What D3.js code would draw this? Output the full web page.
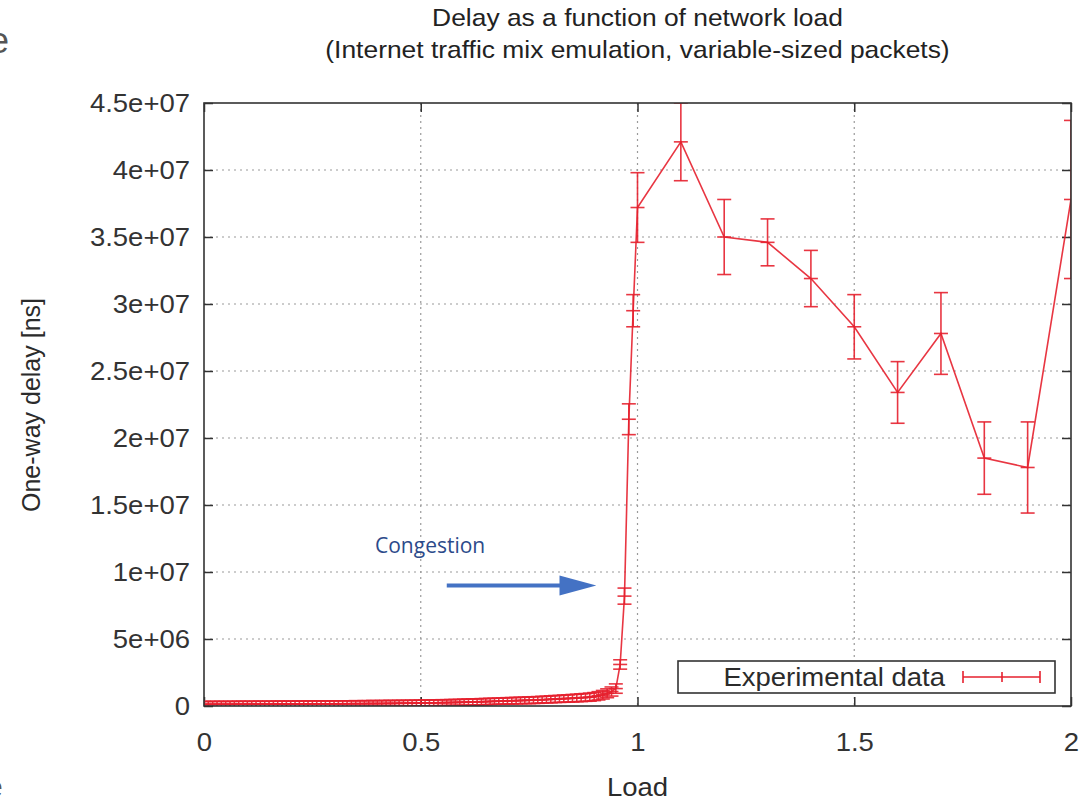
<!DOCTYPE html>
<html>
<head>
<meta charset="utf-8">
<script src="https://cdn.jsdelivr.net/npm/d3@7"></script>
<style>
  body { margin: 0; background: #fff; }
  svg text { font-family: "Liberation Sans", Arial, sans-serif; fill: #2b2b2b; }
</style>
</head>
<body>
<svg id="chart" width="1081" height="802"></svg>
<script>
// Load values (x) and measured one-way delay (ns) with error half-widths
const loads = [
  0.00, 0.01, 0.02, 0.03, 0.04, 0.05, 0.06, 0.07, 0.08, 0.09,
  0.10, 0.11, 0.12, 0.13, 0.14, 0.15, 0.16, 0.17, 0.18, 0.19,
  0.20, 0.21, 0.22, 0.23, 0.24, 0.25, 0.26, 0.27, 0.28, 0.29,
  0.30, 0.31, 0.32, 0.33, 0.34, 0.35, 0.36, 0.37, 0.38, 0.39,
  0.40, 0.41, 0.42, 0.43, 0.44, 0.45, 0.46, 0.47, 0.48, 0.49,
  0.50, 0.51, 0.52, 0.53, 0.54, 0.55, 0.56, 0.57, 0.58, 0.59,
  0.60, 0.61, 0.62, 0.63, 0.64, 0.65, 0.66, 0.67, 0.68, 0.69,
  0.70, 0.71, 0.72, 0.73, 0.74, 0.75, 0.76, 0.77, 0.78, 0.79,
  0.80, 0.81, 0.82, 0.83, 0.84, 0.85, 0.86, 0.87, 0.88, 0.89,
  0.90, 0.91, 0.92, 0.93, 0.94, 0.95, 0.96, 0.97, 0.98, 0.99,
  1.00, 1.1, 1.2, 1.3, 1.4, 1.5, 1.6, 1.7, 1.8, 1.9, 2.0
];
const delays = [
  0.12e6, 0.12e6, 0.13e6, 0.12e6, 0.13e6, 0.13e6, 0.12e6, 0.13e6, 0.14e6, 0.13e6,
  0.13e6, 0.14e6, 0.13e6, 0.14e6, 0.14e6, 0.13e6, 0.14e6, 0.15e6, 0.14e6, 0.14e6,
  0.15e6, 0.14e6, 0.15e6, 0.15e6, 0.16e6, 0.15e6, 0.16e6, 0.16e6, 0.15e6, 0.16e6,
  0.16e6, 0.17e6, 0.16e6, 0.17e6, 0.17e6, 0.18e6, 0.17e6, 0.18e6, 0.18e6, 0.19e6,
  0.18e6, 0.19e6, 0.19e6, 0.20e6, 0.19e6, 0.20e6, 0.21e6, 0.20e6, 0.21e6, 0.22e6,
  0.22e6, 0.23e6, 0.22e6, 0.24e6, 0.24e6, 0.25e6, 0.25e6, 0.26e6, 0.27e6, 0.27e6,
  0.28e6, 0.29e6, 0.30e6, 0.30e6, 0.32e6, 0.33e6, 0.34e6, 0.35e6, 0.36e6, 0.37e6,
  0.38e6, 0.39e6, 0.40e6, 0.41e6, 0.42e6, 0.43e6, 0.44e6, 0.45e6, 0.47e6, 0.48e6,
  0.50e6, 0.52e6, 0.53e6, 0.55e6, 0.56e6, 0.58e6, 0.60e6, 0.62e6, 0.64e6, 0.66e6,
  0.70e6, 0.76e6, 0.84e6, 0.95e6, 1.08e6, 1.3e6, 3.1e6, 8.2e6, 21.4e6, 29.5e6,
  37.2e6, 42.1e6, 35.0e6, 34.6e6, 31.9e6, 28.3e6, 23.4e6, 27.8e6, 18.5e6, 17.8e6, 37.8e6
];
const errors = [
  0.22e6, 0.22e6, 0.22e6, 0.22e6, 0.22e6, 0.22e6, 0.22e6, 0.22e6, 0.22e6, 0.22e6,
  0.22e6, 0.22e6, 0.22e6, 0.22e6, 0.22e6, 0.22e6, 0.22e6, 0.22e6, 0.22e6, 0.22e6,
  0.22e6, 0.22e6, 0.22e6, 0.22e6, 0.22e6, 0.22e6, 0.22e6, 0.22e6, 0.22e6, 0.22e6,
  0.22e6, 0.22e6, 0.22e6, 0.22e6, 0.22e6, 0.22e6, 0.22e6, 0.22e6, 0.22e6, 0.22e6,
  0.22e6, 0.22e6, 0.22e6, 0.22e6, 0.22e6, 0.22e6, 0.22e6, 0.22e6, 0.22e6, 0.22e6,
  0.22e6, 0.22e6, 0.22e6, 0.22e6, 0.22e6, 0.22e6, 0.22e6, 0.22e6, 0.22e6, 0.22e6,
  0.23e6, 0.23e6, 0.23e6, 0.23e6, 0.23e6, 0.23e6, 0.23e6, 0.23e6, 0.23e6, 0.23e6,
  0.24e6, 0.24e6, 0.24e6, 0.24e6, 0.24e6, 0.25e6, 0.25e6, 0.25e6, 0.25e6, 0.25e6,
  0.26e6, 0.26e6, 0.26e6, 0.27e6, 0.27e6, 0.28e6, 0.28e6, 0.29e6, 0.29e6, 0.30e6,
  0.30e6, 0.31e6, 0.32e6, 0.33e6, 0.34e6, 0.35e6, 0.35e6, 0.6e6, 1.15e6, 1.2e6,
  2.6e6, 2.9e6, 2.8e6, 1.75e6, 2.1e6, 2.4e6, 2.3e6, 3.05e6, 2.7e6, 3.4e6, 5.9e6
];

const xTicks = [0, 0.5, 1, 1.5, 2];
const xTickLabels = ["0", "0.5", "1", "1.5", "2"];
const yTicks = [0, 5e6, 1e7, 1.5e7, 2e7, 2.5e7, 3e7, 3.5e7, 4e7, 4.5e7];
const yTickLabels = ["0", "5e+06", "1e+07", "1.5e+07", "2e+07", "2.5e+07", "3e+07", "3.5e+07", "4e+07", "4.5e+07"];

const titleLines = ["Delay as a function of network load", "(Internet traffic mix emulation, variable-sized packets)"];
const seriesName = "Experimental data";

const red = "#e6202e";
const ink = "#333";

const svg = d3.select("#chart");
const plotL = 204, plotR = 1071, plotT = 103, plotB = 706;

const x = d3.scaleLinear().domain([0, 2]).range([plotL, plotR]);
const y = d3.scaleLinear().domain([0, 4.5e7]).range([plotB, plotT]);

// slight horizontal stretch of text, as in the source image
function stretch(sel, k = 1.1) {
  sel.attr("transform", function() {
    const tx = +this.getAttribute("x") || 0;
    const ty = +this.getAttribute("y") || 0;
    return `translate(${tx},${ty}) scale(${k},1) translate(${-tx},${-ty})`;
  });
}

// crop leftovers on the left edge
svg.append("text").attr("x", -11).attr("y", 53).attr("font-size", 36).style("fill", "#555").text("e");
svg.append("text").attr("x", -14).attr("y", 797).attr("font-size", 30).style("fill", "#555").text("e");

// grid
const grid = svg.append("g").attr("stroke", "#9a9a9a").attr("stroke-width", 1.2).attr("stroke-dasharray", "2,4");
grid.selectAll(".hg").data(yTicks.slice(1, -1)).join("line")
  .attr("x1", plotL).attr("x2", plotR).attr("y1", d => y(d)).attr("y2", d => y(d));
grid.selectAll(".vg").data(xTicks.slice(1, -1)).join("line")
  .attr("y1", plotT).attr("y2", plotB).attr("x1", d => x(d)).attr("x2", d => x(d));

// axes (gnuplot style: ticks inside, mirrored)
const yAxis = svg.append("g").attr("transform", `translate(${plotL},0)`)
  .call(d3.axisLeft(y).tickValues(yTicks).tickFormat((d, i) => yTickLabels[i]).tickSize(-9).tickPadding(14));
const xAxis = svg.append("g").attr("transform", `translate(0,${plotB})`)
  .call(d3.axisBottom(x).tickValues(xTicks).tickFormat((d, i) => xTickLabels[i]).tickSize(-9).tickPadding(27));
svg.append("g").attr("transform", `translate(${plotR},0)`)
  .call(d3.axisRight(y).tickValues(yTicks).tickFormat("").tickSize(-9));
svg.append("g").attr("transform", `translate(0,${plotT})`)
  .call(d3.axisTop(x).tickValues(xTicks).tickFormat("").tickSize(-9));
svg.selectAll(".domain").remove();
svg.selectAll(".tick line").attr("stroke", ink).attr("stroke-width", 1.5);
[yAxis, xAxis].forEach(a => a.selectAll("text").attr("font-size", 25).style("fill", ink)
  .attr("font-family", "'Liberation Sans', Arial, sans-serif").call(stretch));

// data
const pts = loads.map((l, i) => ({ load: l, delay: delays[i], err: errors[i] }));
svg.append("clipPath").attr("id", "plot-clip")
  .append("rect").attr("x", plotL).attr("y", plotT).attr("width", plotR - plotL).attr("height", plotB - plotT);
const plot = svg.append("g").attr("clip-path", "url(#plot-clip)");

plot.append("path").datum(pts)
  .attr("fill", "none").attr("stroke", red).attr("stroke-width", 1.6).attr("stroke-opacity", 0.9)
  .attr("d", d3.line().x(d => x(d.load)).y(d => y(d.delay)));

const capW = 7;
const bars = plot.append("g").attr("stroke", red).attr("stroke-width", 1.6).attr("stroke-opacity", 0.9)
  .selectAll("g").data(pts).join("g");
bars.append("line")
  .attr("x1", d => x(d.load)).attr("x2", d => x(d.load))
  .attr("y1", d => y(d.delay - d.err)).attr("y2", d => y(d.delay + d.err));
bars.append("line")
  .attr("x1", d => x(d.load) - capW).attr("x2", d => x(d.load) + capW)
  .attr("y1", d => y(d.delay + d.err)).attr("y2", d => y(d.delay + d.err));
bars.append("line")
  .attr("x1", d => x(d.load) - capW).attr("x2", d => x(d.load) + capW)
  .attr("y1", d => y(d.delay - d.err)).attr("y2", d => y(d.delay - d.err));
bars.append("line")
  .attr("x1", d => x(d.load) - capW).attr("x2", d => x(d.load) + capW)
  .attr("y1", d => y(d.delay)).attr("y2", d => y(d.delay));

// border
svg.append("rect").attr("x", plotL).attr("y", plotT).attr("width", plotR - plotL).attr("height", plotB - plotT)
  .attr("fill", "none").attr("stroke", ink).attr("stroke-width", 1.6);

// legend
const lg = svg.append("g");
lg.append("rect").attr("x", 678).attr("y", 661).attr("width", 377).attr("height", 32)
  .attr("fill", "#fff").attr("stroke", ink).attr("stroke-width", 1.6);
lg.append("text").attr("x", 945).attr("y", 686).attr("text-anchor", "end").attr("font-size", 25)
  .text(seriesName).call(stretch);
lg.append("g").attr("stroke", red).attr("stroke-width", 1.6)
  .selectAll("line").data([[963, 677, 1040, 677], [963, 671, 963, 683], [1040, 671, 1040, 683], [1002, 672, 1002, 682]])
  .join("line").attr("x1", d => d[0]).attr("y1", d => d[1]).attr("x2", d => d[2]).attr("y2", d => d[3]);

// titles
svg.selectAll(".title").data(titleLines).join("text")
  .attr("x", x(1)).attr("y", (d, i) => 26 + i * 32).attr("text-anchor", "middle")
  .attr("font-size", 24).style("fill", "#222").text(d => d).call(stretch, 1.1);

svg.append("text").attr("x", x(1)).attr("y", 796).attr("text-anchor", "middle")
  .attr("font-size", 25).text("Load").call(stretch);
svg.append("text").attr("transform", "translate(40,405) rotate(-90)").attr("text-anchor", "middle")
  .attr("font-size", 25).text("One-way delay [ns]");

// congestion annotation
svg.append("text").attr("x", 375).attr("y", 553)
  .style("font-family", "'Open Sans', 'Noto Sans', sans-serif").style("fill", "#2c4a8a")
  .attr("font-size", 21).text("Congestion");
const arrowY = y(9e6);
svg.append("line").attr("x1", x(0.56)).attr("x2", x(0.83)).attr("y1", arrowY).attr("y2", arrowY)
  .attr("stroke", "#4472c4").attr("stroke-width", 4);
svg.append("path")
  .attr("d", `M${x(0.82)},${arrowY - 10}L${x(0.905)},${arrowY}L${x(0.82)},${arrowY + 10}Z`)
  .attr("fill", "#4472c4");
</script>
</body>
</html>
